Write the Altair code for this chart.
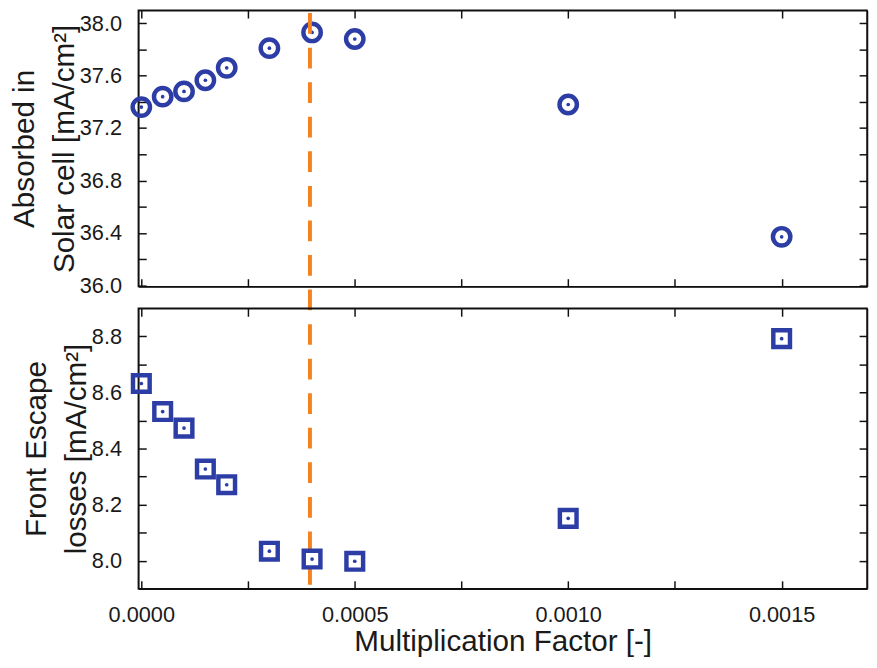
import altair as alt
import pandas as pd

# ---- data ----
factor = [0.0, 0.00005, 0.0001, 0.00015, 0.0002, 0.0003, 0.0004, 0.0005, 0.0010, 0.0015]
absorbed = [37.36, 37.44, 37.48, 37.565, 37.66, 37.81, 37.93, 37.88, 37.38, 36.37]
front_escape = [8.632, 8.532, 8.473, 8.327, 8.271, 8.034, 8.006, 7.998, 8.151, 8.792]
optimum_factor = [0.000395]

x_tick_values = [0.0, 0.00025, 0.0005, 0.00075, 0.0010, 0.00125, 0.0015]
absorbed_tick_values = [36.0, 36.2, 36.4, 36.6, 36.8, 37.0, 37.2, 37.4, 37.6, 37.8, 38.0]
escape_tick_values = [8.0, 8.1, 8.2, 8.3, 8.4, 8.5, 8.6, 8.7, 8.8]

x_domain = [-0.000007, 0.0017]
absorbed_domain = [35.99, 38.1]
escape_domain = [7.9, 8.9]

absorbed_title = ["Absorbed in", "Solar cell [mA/cm²]"]
escape_title = ["Front Escape", "losses [mA/cm²]"]
x_title = "Multiplication Factor [-]"

df = pd.DataFrame({"factor": factor, "absorbed": absorbed, "escape": front_escape})
opt_df = pd.DataFrame({"opt": optimum_factor})

BLUE = "#2d3da6"
ORANGE = "#f5821f"
BLACK = "#111111"
TXT = "#1a1a1a"
FONT = "Liberation Sans"

W = 738
H1 = 280
H2 = 284
GAP = 22


def ax(**kw):
    base = dict(grid=False, domainColor=BLACK, domainWidth=1.5, tickColor=BLACK,
                tickWidth=1.5, tickSize=alt.ExprRef(expr="-8"), labelFont=FONT,
                labelFontSize=22, labelColor=TXT, titleFont=FONT, titleFontSize=30,
                titleFontWeight="normal", titleColor=TXT, labelOverlap=False,
                labelFlush=False)
    base.update(kw)
    return alt.Axis(**base)


x_label_expr = "round(datum.value*10000) % 5 == 0 ? format(datum.value, '.4f') : ''"


def panel(ycol, ydomain, yticks, ylabel_expr, ytitle, shape, size, xlabels, height, with_rule):
    xs = alt.Scale(domain=x_domain, nice=False, zero=False)
    ys = alt.Scale(domain=ydomain, nice=False, zero=False)
    base = alt.Chart(df)
    if xlabels:
        xaxis = ax(orient="bottom", values=x_tick_values, labelExpr=x_label_expr,
                   title=x_title, labelPadding=24, titlePadding=2)
    else:
        xaxis = ax(orient="bottom", values=x_tick_values, labels=False, title=None)
    marks = base.mark_point(shape=shape, filled=False, size=size, strokeWidth=4.5,
                            color=BLUE, opacity=1).encode(
        x=alt.X("factor:Q", scale=xs, axis=xaxis),
        y=alt.Y(f"{ycol}:Q", scale=ys,
                axis=ax(orient="left", values=yticks, labelExpr=ylabel_expr,
                        title=ytitle, titleLineHeight=40, labelPadding=25,
                        titlePadding=0)),
    )
    dots = base.mark_point(shape="circle", filled=True, size=14, color=BLUE,
                           opacity=1).encode(
        x=alt.X("factor:Q", scale=xs, axis=None),
        y=alt.Y(f"{ycol}:Q", scale=ys, axis=None),
    )
    mirror = base.mark_point(opacity=0).encode(
        x=alt.X("factor:Q", scale=xs,
                axis=ax(orient="top", values=x_tick_values, labels=False, title=None)),
        y=alt.Y(f"{ycol}:Q", scale=ys,
                axis=ax(orient="right", values=yticks, labels=False, title=None)),
    )
    layers = [marks, dots, mirror]
    if with_rule:
        rule = alt.Chart(opt_df).mark_rule(color=ORANGE, strokeWidth=4,
                                           strokeDash=[21, 14]).encode(
            x=alt.X("opt:Q", scale=xs, axis=None),
            y=alt.value(3),
            y2=alt.value(H1 + GAP + H2 - 4),
        )
        layers.append(rule)
    return alt.layer(*layers).resolve_axis(x="independent", y="independent").properties(
        width=W, height=height)


top = panel("absorbed", absorbed_domain, absorbed_tick_values,
            "round(datum.value*10) % 4 == 0 ? format(datum.value, '.1f') : ''",
            absorbed_title, "circle", 310, False, H1, True)
bottom = panel("escape", escape_domain, escape_tick_values,
               "round(datum.value*10) % 2 == 0 ? format(datum.value, '.1f') : ''",
               escape_title, "square", 285, True, H2, False)

chart = alt.vconcat(top, bottom, spacing=GAP, bounds="flush").properties(
    padding={"top": -4, "left": 1, "right": 0, "bottom": 0}, background="white"
).configure_view(stroke=BLACK, strokeWidth=1.5)

chart.save("out.html", embed_options={"renderer": "svg", "actions": False})
